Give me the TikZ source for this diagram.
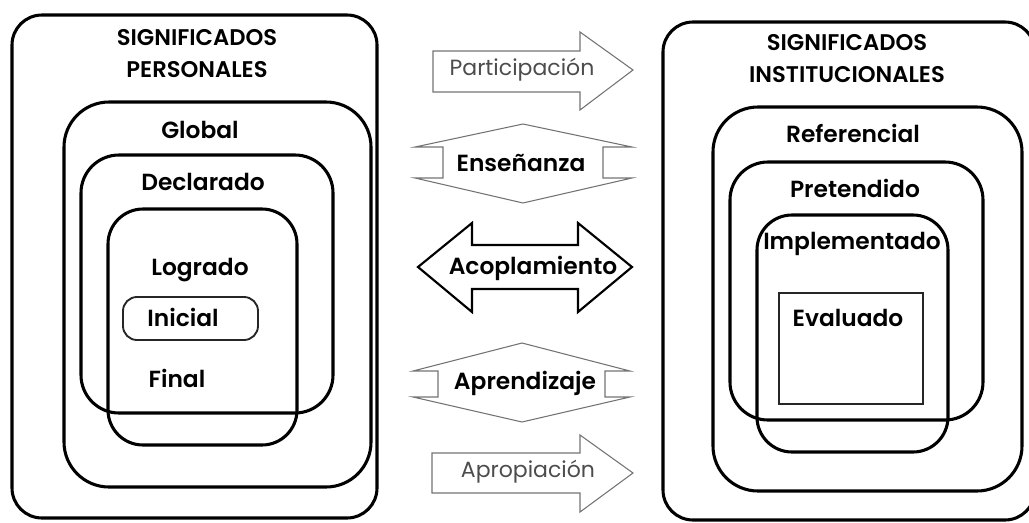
\documentclass[tikz,border=0pt]{standalone}
\usepackage{fontspec}
\setmainfont{Poppins}[BoldFont={* SemiBold}]
\begin{document}
\begin{tikzpicture}[x=0.75pt,y=-0.75pt,
  box/.style={draw=black,line width=2.3pt,fill=none,inner sep=0pt},
  thinbox/.style={draw=black!85,line width=1.4pt,inner sep=0pt},
  bw/.style={minimum width={#1*0.75pt}},
  bh/.style={minimum height={#1*0.75pt}},
  rc/.style={rounded corners={#1*0.75pt}},
  head/.style={font=\fontsize{17}{24}\selectfont\bfseries,align=center,inner sep=0pt},
  lab/.style={font=\fontsize{17.5}{20}\selectfont\bfseries,inner sep=0pt},
  graytxt/.style={font=\fontsize{16.5}{19}\selectfont,text=black!70,inner sep=0pt},
  grayline/.style={draw=black!55,line width=0.8pt},
  blackline/.style={draw=black,line width=1.6pt}]
\useasboundingbox (0,0) rectangle (1029,522);
\clip (0,0) rectangle (1029,522);
% left side
\node[box,rc=30,bw=365,bh=503] (lout) at (194.5,266.5) {};
\node[box,rc=45,bw=307,bh=385] (glob) at (217.5,294.5) {};
\node[box,rc=38,bw=252,bh=258] (decl) at (207,284) {};
\node[box,rc=35,bw=189,bh=236] (logr) at (202.5,327) {};
\node[thinbox,rc=14,bw=135,bh=43] (inic) at (190.5,318.5) {};
\node[head] (lhead) at (197,54) {SIGNIFICADOS\\PERSONALES};
\node[lab] (tglob) at (200,130) {Global};
\node[lab] (tdecl) at (203,182) {Declarado};
\node[lab] (tlogr) at (200,270) {Logrado};
\node[lab] (tinic) at (183,317) {Inicial};
\node[lab] (tfin) at (177,378) {Final};
% right side
\node[box,rc=30,bw=372,bh=498] (rout) at (849,271) {};
\node[box,rc=45,bw=309,bh=384] (refe) at (867.5,299) {};
\node[box,rc=38,bw=253,bh=258] (pret) at (856.5,291) {};
\node[box,rc=35,bw=191,bh=237] (impl) at (852.5,333.5) {};
\node[thinbox,bw=144,bh=111] (eval) at (851,348.5) {};
\node[head] (rhead) at (847,59) {SIGNIFICADOS\\INSTITUCIONALES};
\node[lab] (trefe) at (853,133) {Referencial};
\node[lab] (tpret) at (855,188) {Pretendido};
\node[lab] (timpl) at (852,244) {Implementado};
\node[lab] (teval) at (848,318) {Evaluado};
% middle arrows
\draw[grayline] (433,51) -- (580,51) -- (580,32) -- (633,70) -- (580,110) -- (580,92) -- (433,92) -- cycle;
\node[graytxt] (tpart) at (522,70) {Participación};
\draw[grayline] (523,124) -- (632,147) -- (603,147) -- (603,178) -- (632,178) -- (523,203) -- (415,178) -- (443,178) -- (443,147) -- (415,147) -- cycle;
\node[lab] (tens) at (521,163) {Enseñanza};
\draw[blackline] (418,267) -- (472,223) -- (472,245) -- (578,245) -- (578,223) -- (632,267) -- (578,312) -- (578,289) -- (472,289) -- (472,312) -- cycle;
\node[lab] (tacop) at (533,268) {Acoplamiento};
\draw[grayline] (522,343) -- (630,371) -- (605,371) -- (605,397) -- (630,397) -- (522,422) -- (413,397) -- (438,397) -- (438,371) -- (413,371) -- cycle;
\node[lab] (tapre) at (525,383) {Aprendizaje};
\draw[grayline] (432,453) -- (580,453) -- (580,435) -- (633,473) -- (580,512) -- (580,493) -- (432,493) -- cycle;
\node[graytxt] (tapro) at (528,472) {Apropiación};
\end{tikzpicture}
\end{document}
